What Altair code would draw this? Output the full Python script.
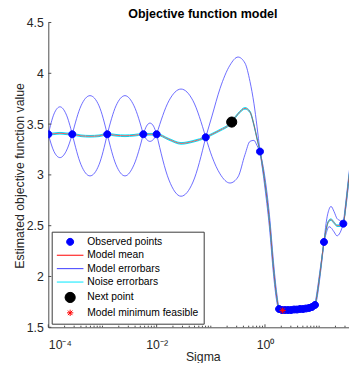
import altair as alt
import pandas as pd

FONT = "Liberation Sans"
AX = "#4d4d4d"
TXT = "#262626"

# ---- model curves ----
sigma_knots = [1.0e-4, 1.274e-4, 1.644e-4, 2.123e-4, 2.773e-4, 4.018e-4, 5.888e-4, 8.630e-4,
               1.227e-3, 1.778e-3, 2.606e-3, 3.819e-3, 5.675e-3, 6.501e-3, 7.534e-3, 8.750e-3,
               1.0e-2, 1.687e-2, 2.818e-2, 4.688e-2, 8.054e-2, 0.1052, 0.1479, 0.2259, 0.3177,
               0.4276, 0.5284, 0.6266, 0.7112, 0.8091, 1.000, 1.236, 1.426, 1.644,
               1.82, 2.06, 2.34, 2.66, 3.03, 3.44, 3.90, 4.44, 5.04, 5.71, 6.50, 7.38, 8.39,
               9.016, 10.38, 12.27, 13.40, 15.21, 16.56, 18.79, 21.38, 24.27, 27.93, 31.33,
               35.56, 40.46, 49.32, 58.0]
mean_vals = [3.40, 3.405, 3.41, 3.405, 3.40, 3.385, 3.38, 3.385,
             3.40, 3.39, 3.385, 3.39, 3.40, 3.40, 3.40, 3.40,
             3.40, 3.35, 3.31, 3.33, 3.37, 3.40, 3.44, 3.50, 3.60,
             3.655, 3.62, 3.49, 3.36, 3.23, 2.92, 2.49, 2.10, 1.80,
             1.68, 1.67, 1.67, 1.67, 1.67, 1.675, 1.675, 1.68, 1.68, 1.685, 1.69, 1.70, 1.72,
             1.80, 2.03, 2.34, 2.46, 2.55, 2.56, 2.53, 2.50, 2.50, 2.52, 2.72,
             2.98, 3.22, 3.59, 3.95]
upper_vals = [3.40, 3.60, 3.67, 3.60, 3.40, 3.68, 3.78, 3.68,
              3.40, 3.68, 3.78, 3.68, 3.40, 3.48, 3.51, 3.48,
              3.40, 3.73, 3.845, 3.73, 3.37, 3.58, 3.85, 4.08, 4.16,
              4.10, 3.92, 3.70, 3.48, 3.23, 2.97, 2.55, 2.16, 1.84,
              1.70, 1.69, 1.69, 1.69, 1.69, 1.695, 1.695, 1.70, 1.70, 1.705, 1.71, 1.72, 1.74,
              1.83, 2.06, 2.34, 2.52, 2.66, 2.69, 2.64, 2.57, 2.55, 2.52, 2.75,
              3.01, 3.25, 3.59, 3.99]
lower_vals = [3.40, 3.23, 3.17, 3.23, 3.40, 3.10, 2.99, 3.10,
              3.40, 3.10, 2.99, 3.10, 3.40, 3.35, 3.33, 3.35,
              3.40, 2.95, 2.79, 2.93, 3.37, 3.18, 3.01, 2.92, 2.98,
              3.20, 3.33, 3.34, 3.29, 3.23, 2.87, 2.43, 2.04, 1.76,
              1.66, 1.65, 1.65, 1.65, 1.65, 1.655, 1.655, 1.66, 1.66, 1.665, 1.67, 1.68, 1.70,
              1.77, 2.00, 2.34, 2.42, 2.49, 2.48, 2.44, 2.40, 2.43, 2.52, 2.69,
              2.95, 3.19, 3.59, 3.91]
noise_sd = [0.008, 0.008, 0.008, 0.008, 0.008, 0.008, 0.008, 0.008,
            0.008, 0.008, 0.008, 0.008, 0.008, 0.008, 0.008, 0.008,
            0.008, 0.008, 0.008, 0.008, 0.008, 0.008, 0.008, 0.008, 0.008,
            0.008, 0.008, 0.008, 0.008, 0.008, 0.008, 0.008, 0.008, 0.008,
            0.008, 0.008, 0.008, 0.008, 0.008, 0.008, 0.008, 0.008, 0.008, 0.008, 0.008, 0.008, 0.008,
            0.008, 0.008, 0.008, 0.008, 0.008, 0.008, 0.008, 0.008, 0.008, 0.008, 0.008,
            0.008, 0.008, 0.008, 0.008]
arc_breaks = [4, 8, 12, 16, 20, 29, 49, 56, 60]   # observed points where error arcs pinch

# ---- points ----
obs_sigma = [1.0e-4, 2.773e-4, 1.227e-3, 5.675e-3, 1.0e-2, 8.054e-2, 0.8091,
             1.82, 2.06, 2.34, 2.66, 3.03, 3.44, 3.90, 4.44, 5.04, 5.71, 6.50, 7.38, 8.39,
             12.27, 27.93, 49.32]
obs_value = [3.40, 3.40, 3.40, 3.40, 3.40, 3.37, 3.23,
             1.68, 1.67, 1.67, 1.67, 1.67, 1.675, 1.675, 1.68, 1.68, 1.685, 1.69, 1.70, 1.72,
             2.34, 2.52, 3.59]
next_sigma = [0.2432]
next_value = [3.52]
min_sigma = [2.12]
min_value = [1.665]

series_names = ["Observed points", "Model mean", "Model errorbars", "Noise errorbars",
                "Next point", "Model minimum feasible"]
series_stroke = ["#0000ff", "#ff0000", "#3c3cff", "#00e8ff", "#000000", "#ff0000"]
series_fill = ["#0000ff", "#ff0000", "#3c3cff", "#00e8ff", "#000000", "#ff0000"]
LINE = "M-3.8,0L3.8,0"
series_shape = ["M-1,0A1,1,0,1,0,1,0A1,1,0,1,0,-1,0Z", LINE, LINE, LINE,
                "M-1.45,0A1.45,1.45,0,1,0,1.45,0A1.45,1.45,0,1,0,-1.45,0Z",
                "M-0.9,0L0.9,0M0,-0.9L0,0.9M-0.65,-0.65L0.65,0.65M-0.65,0.65L0.65,-0.65"]

y_ticks = [1.5, 2.0, 2.5, 3.0, 3.5, 4.0, 4.5]
x_label_ticks = [1e-4, 1e-2, 1.0]
x_minor_ticks = [m * 10.0 ** e for e in range(-4, 2) for m in range(1, 10)
                 if not (m == 1 and e in (-4, -2, 0))]

XMAX = 35.56
W, H = 300.7, 304.8

# ---- tables ----
mean_rows, noise_rows, err_rows = [], [], []
seg = 0
for i, (s, m, u, l, n) in enumerate(zip(sigma_knots, mean_vals, upper_vals, lower_vals, noise_sd)):
    mean_rows.append({"sigma": s, "value": m, "series": "Model mean", "part": "mean"})
    noise_rows.append({"sigma": s, "value": m + n, "series": "Noise errorbars", "part": "hi"})
    noise_rows.append({"sigma": s, "value": m - n, "series": "Noise errorbars", "part": "lo"})
    err_rows.append({"sigma": s, "value": u, "series": "Model errorbars", "part": f"u{seg}"})
    err_rows.append({"sigma": s, "value": l, "series": "Model errorbars", "part": f"l{seg}"})
    if i in arc_breaks:
        seg += 1
        err_rows.append({"sigma": s, "value": u, "series": "Model errorbars", "part": f"u{seg}"})
        err_rows.append({"sigma": s, "value": l, "series": "Model errorbars", "part": f"l{seg}"})

pts_rows = ([{"sigma": s, "value": v, "series": "Observed points"} for s, v in zip(obs_sigma, obs_value)] +
            [{"sigma": s, "value": v, "series": "Next point"} for s, v in zip(next_sigma, next_value)] +
            [{"sigma": s, "value": v, "series": "Model minimum feasible"} for s, v in zip(min_sigma, min_value)])

mean_df = pd.DataFrame(mean_rows)
noise_df = pd.DataFrame(noise_rows)
err_df = pd.DataFrame(err_rows)
pts_df = pd.DataFrame(pts_rows)
xmaj_df = pd.DataFrame({"sigma": x_label_ticks})
xmin_df = pd.DataFrame({"sigma": [t for t in x_minor_ticks if t <= XMAX]})
ytk_df = pd.DataFrame({"value": y_ticks})

xscale = alt.Scale(type="log", domain=[1e-4, XMAX], nice=False)
yscale = alt.Scale(domain=[1.5, 4.5], nice=False, zero=False)

X = alt.X("sigma:Q", scale=xscale, axis=alt.Axis(
    title="Sigma", values=x_label_ticks, ticks=False, grid=False,
    labelExpr="round(log(datum.value)/LN10) == -4 ? '10⁻⁴' : round(log(datum.value)/LN10) == -2 ? '10⁻²' : '10⁰'",
    labelPadding=11, labelFontSize=12.3, labelFont=FONT, labelColor=TXT,
    domainColor=AX, domainWidth=1,
    titleFont=FONT, titleFontSize=12.3, titleFontWeight="normal", titleColor=TXT,
    titleBaseline="alphabetic", titleX=154.5, titleY=33, titleAlign="center"))
Y = alt.Y("value:Q", scale=yscale, axis=alt.Axis(
    title="Estimated objective function value", values=y_ticks, ticks=False,
    grid=False, format=".1~f", labelPadding=5, labelFontSize=12.3, labelFont=FONT,
    labelColor=TXT, domainColor=AX, domainWidth=1,
    titleFont=FONT, titleFontSize=12.3, titleFontWeight="normal", titleColor=TXT,
    titleBaseline="alphabetic", titleX=-25, titleY=152.9, titleAlign="center", titleAngle=270))

LEG = alt.Legend(title=None, orient="none", legendX=3.4, legendY=209.2, padding=5,
                 symbolSize=49, symbolStrokeWidth=1, symbolOffset=8.3, labelOffset=12,
                 labelFont=FONT, labelFontSize=10.3, labelColor="#000000", rowPadding=2.4,
                 strokeColor="#3a3a3a", fillColor="#ffffff", cornerRadius=0)

stroke_enc = alt.Stroke("series:N", scale=alt.Scale(domain=series_names, range=series_stroke), legend=LEG)
fill_enc = alt.Fill("series:N", scale=alt.Scale(domain=series_names, range=series_fill), legend=LEG)
shape_enc = alt.Shape("series:N", scale=alt.Scale(domain=series_names, range=series_shape), legend=LEG)

err = alt.Chart(err_df).mark_line(clip=True, interpolate="monotone", strokeWidth=1,
                                  strokeOpacity=0.75).encode(
    x=X, y=Y, stroke=stroke_enc, detail="part:N")
noise = alt.Chart(noise_df).mark_line(clip=True, interpolate="monotone", strokeWidth=1).encode(
    x=X, y=Y, stroke=stroke_enc, detail="part:N")
mean = alt.Chart(mean_df).mark_line(clip=True, interpolate="monotone", strokeWidth=0.8,
                                    strokeOpacity=0.75).encode(
    x=X, y=Y, stroke=stroke_enc, detail="part:N")
pts = alt.Chart(pts_df).mark_point(clip=True, filled=True, size=49, strokeWidth=1, opacity=1).encode(
    x=X, y=Y, fill=fill_enc, stroke=stroke_enc, shape=shape_enc)

xt_major = alt.Chart(xmaj_df).mark_rule(color=AX, strokeWidth=1).encode(
    x=X, y=alt.value(H), y2=alt.value(H - 3))
xt_minor = alt.Chart(xmin_df).mark_rule(color=AX, strokeWidth=1).encode(
    x=X, y=alt.value(H), y2=alt.value(H - 1.6))
yt = alt.Chart(ytk_df).mark_rule(color=AX, strokeWidth=1).encode(
    y=Y, x=alt.value(0), x2=alt.value(3))

chart = alt.layer(err, noise, mean, pts, xt_major, xt_minor, yt).properties(
    width=W, height=H,
    title=alt.Title("Objective function model", font=FONT, fontSize=12.5, fontWeight="bold",
                    color="#000000", anchor="middle", offset=5, dx=4.2, dy=8.6, frame="group"),
    autosize=alt.AutoSizeParams(type="none"),
    padding={"left": 40.3, "top": 14.5, "right": 0, "bottom": 35.5},
    background="white",
).configure_view(stroke=None)

chart.save("out.html", embed_options={"renderer": "svg", "actions": False})
